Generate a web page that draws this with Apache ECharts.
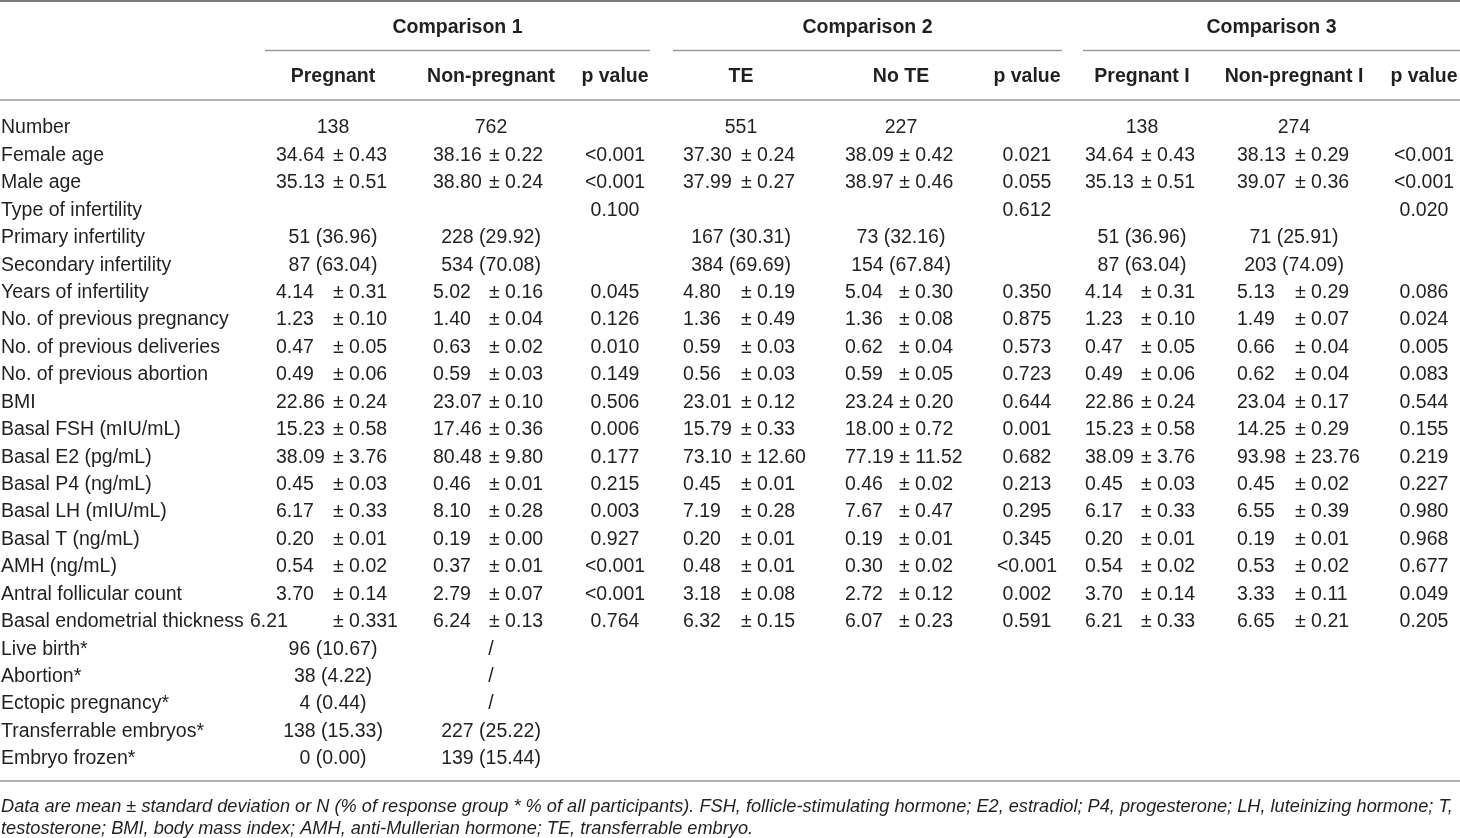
<!DOCTYPE html>
<html>
<head>
<meta charset="utf-8">
<script src="https://cdn.jsdelivr.net/npm/echarts@6/dist/echarts.min.js"></script>
<style>
  html, body { margin: 0; padding: 0; background: #fff; }
  #chart { width: 1460px; height: 838px; }
</style>
</head>
<body>
<div id="chart"></div>
<script>
// row labels (first column)
const rowLabels = [
  'Number', 'Female age', 'Male age', 'Type of infertility', 'Primary infertility',
  'Secondary infertility', 'Years of infertility', 'No. of previous pregnancy',
  'No. of previous deliveries', 'No. of previous abortion', 'BMI', 'Basal FSH (mIU/mL)',
  'Basal E2 (pg/mL)', 'Basal P4 (ng/mL)', 'Basal LH (mIU/mL)', 'Basal T (ng/mL)',
  'AMH (ng/mL)', 'Antral follicular count', 'Basal endometrial thickness', 'Live birth*',
  'Abortion*', 'Ectopic pregnancy*', 'Transferrable embryos*', 'Embryo frozen*'
];

const groupTitles = ['Comparison 1', 'Comparison 2', 'Comparison 3'];
const columnTitles = ['Pregnant', 'Non-pregnant', 'p value', 'TE', 'No TE', 'p value',
  'Pregnant I', 'Non-pregnant I', 'p value'];

// comparison 1
const pregnant = ['138', '34.64 ± 0.43', '35.13 ± 0.51', '', '51 (36.96)', '87 (63.04)',
  '4.14 ± 0.31', '1.23 ± 0.10', '0.47 ± 0.05', '0.49 ± 0.06', '22.86 ± 0.24', '15.23 ± 0.58',
  '38.09 ± 3.76', '0.45 ± 0.03', '6.17 ± 0.33', '0.20 ± 0.01', '0.54 ± 0.02', '3.70 ± 0.14',
  '6.21 ± 0.331', '96 (10.67)', '38 (4.22)', '4 (0.44)', '138 (15.33)', '0 (0.00)'];
const nonPregnant = ['762', '38.16 ± 0.22', '38.80 ± 0.24', '', '228 (29.92)', '534 (70.08)',
  '5.02 ± 0.16', '1.40 ± 0.04', '0.63 ± 0.02', '0.59 ± 0.03', '23.07 ± 0.10', '17.46 ± 0.36',
  '80.48 ± 9.80', '0.46 ± 0.01', '8.10 ± 0.28', '0.19 ± 0.00', '0.37 ± 0.01', '2.79 ± 0.07',
  '6.24 ± 0.13', '/', '/', '/', '227 (25.22)', '139 (15.44)'];
const pValue1 = ['', '<0.001', '<0.001', '0.100', '', '', '0.045', '0.126', '0.010', '0.149',
  '0.506', '0.006', '0.177', '0.215', '0.003', '0.927', '<0.001', '<0.001', '0.764'];

// comparison 2
const te = ['551', '37.30 ± 0.24', '37.99 ± 0.27', '', '167 (30.31)', '384 (69.69)',
  '4.80 ± 0.19', '1.36 ± 0.49', '0.59 ± 0.03', '0.56 ± 0.03', '23.01 ± 0.12', '15.79 ± 0.33',
  '73.10 ± 12.60', '0.45 ± 0.01', '7.19 ± 0.28', '0.20 ± 0.01', '0.48 ± 0.01', '3.18 ± 0.08',
  '6.32 ± 0.15'];
const noTe = ['227', '38.09 ± 0.42', '38.97 ± 0.46', '', '73 (32.16)', '154 (67.84)',
  '5.04 ± 0.30', '1.36 ± 0.08', '0.62 ± 0.04', '0.59 ± 0.05', '23.24 ± 0.20', '18.00 ± 0.72',
  '77.19 ± 11.52', '0.46 ± 0.02', '7.67 ± 0.47', '0.19 ± 0.01', '0.30 ± 0.02', '2.72 ± 0.12',
  '6.07 ± 0.23'];
const pValue2 = ['', '0.021', '0.055', '0.612', '', '', '0.350', '0.875', '0.573', '0.723',
  '0.644', '0.001', '0.682', '0.213', '0.295', '0.345', '<0.001', '0.002', '0.591'];

// comparison 3
const pregnantI = ['138', '34.64 ± 0.43', '35.13 ± 0.51', '', '51 (36.96)', '87 (63.04)',
  '4.14 ± 0.31', '1.23 ± 0.10', '0.47 ± 0.05', '0.49 ± 0.06', '22.86 ± 0.24', '15.23 ± 0.58',
  '38.09 ± 3.76', '0.45 ± 0.03', '6.17 ± 0.33', '0.20 ± 0.01', '0.54 ± 0.02', '3.70 ± 0.14',
  '6.21 ± 0.33'];
const nonPregnantI = ['274', '38.13 ± 0.29', '39.07 ± 0.36', '', '71 (25.91)', '203 (74.09)',
  '5.13 ± 0.29', '1.49 ± 0.07', '0.66 ± 0.04', '0.62 ± 0.04', '23.04 ± 0.17', '14.25 ± 0.29',
  '93.98 ± 23.76', '0.45 ± 0.02', '6.55 ± 0.39', '0.19 ± 0.01', '0.53 ± 0.02', '3.33 ± 0.11',
  '6.65 ± 0.21'];
const pValue3 = ['', '<0.001', '<0.001', '0.020', '', '', '0.086', '0.024', '0.005', '0.083',
  '0.544', '0.155', '0.219', '0.227', '0.980', '0.968', '0.677', '0.049', '0.205'];

const footnote = [
  'Data are mean ± standard deviation or N (% of response group * % of all participants). FSH, follicle-stimulating hormone; E2, estradiol; P4, progesterone; LH, luteinizing hormone; T,',
  'testosterone; BMI, body mass index; AMH, anti-Mullerian hormone; TE, transferrable embryo.'
];

const columns = [pregnant, nonPregnant, pValue1, te, noTe, pValue2, pregnantI, nonPregnantI, pValue3];

// layout (x positions on the 0..1460 value axis)
const colCenter = [333, 491, 615, 741, 901, 1027, 1142, 1294, 1424];
const colLeft   = [276, 433, null, 683, 845, null, 1085, 1237, null];
const colTab    = [333, 489, null, 741, 899, null, 1141, 1295, null];
const groupSpan = [[265, 650], [673, 1062], [1083, 1460]];
const meanNudge = { '0,18': -26 };

const FONT = '"Liberation Sans", Arial, Helvetica, sans-serif';
const FS = 19.5;
const INK = '#231f20';
const RULE = '#9a9a9a';

const measureCtx = document.createElement('canvas').getContext('2d');
measureCtx.font = FS + 'px ' + FONT;
const textW = s => measureCtx.measureText(s).width;

const cells = [];
columns.forEach((col, c) => {
  col.forEach((v, r) => { if (v !== '') cells.push([c, r]); });
});

const graphics = [];
graphics.push({ type: 'line', shape: { x1: 0, y1: 1, x2: 1460, y2: 1 }, style: { stroke: '#7a7a7a', lineWidth: 2 } });
graphics.push({ type: 'line', shape: { x1: 0, y1: 100, x2: 1460, y2: 100 }, style: { stroke: RULE, lineWidth: 1.5 } });
graphics.push({ type: 'line', shape: { x1: 0, y1: 781, x2: 1460, y2: 781 }, style: { stroke: RULE, lineWidth: 1.5 } });
groupSpan.forEach((g, i) => {
  graphics.push({ type: 'line', shape: { x1: g[0], y1: 50.5, x2: g[1], y2: 50.5 }, style: { stroke: RULE, lineWidth: 1.5 } });
  graphics.push({ type: 'text', x: (g[0] + g[1]) / 2, y: 27.5,
    style: { text: groupTitles[i], font: 'bold ' + FS + 'px ' + FONT, fill: INK, textAlign: 'center', textVerticalAlign: 'middle' } });
});
columnTitles.forEach((t, c) => {
  graphics.push({ type: 'text', x: colCenter[c], y: 76.5,
    style: { text: t, font: 'bold ' + FS + 'px ' + FONT, fill: INK, textAlign: 'center', textVerticalAlign: 'middle' } });
});
footnote.forEach((t, i) => {
  graphics.push({ type: 'text', x: 1, y: 807 + i * 22,
    style: { text: t, font: 'italic 18.2px ' + FONT, fill: INK, textAlign: 'left', textVerticalAlign: 'middle' } });
});

const chart = echarts.init(document.getElementById('chart'));
chart.setOption({
  animation: false,
  grid: { left: 0, right: 0, top: 114.3, bottom: 65.3, containLabel: false, outerBoundsMode: 'none' },
  xAxis: { type: 'value', min: 0, max: 1460, show: false },
  yAxis: {
    type: 'category', data: rowLabels, inverse: true,
    axisLine: { show: false }, axisTick: { show: false }, splitLine: { show: false },
    axisLabel: { inside: true, margin: 1, fontSize: FS, fontFamily: FONT, color: INK, align: 'left' }
  },
  graphic: graphics,
  series: [{
    type: 'custom',
    data: cells,
    silent: true,
    renderItem: (params, api) => {
      const c = api.value(0), r = api.value(1);
      const s = columns[c][r];
      const y = api.coord([0, r])[1];
      const base = { font: FS + 'px ' + FONT, fill: INK, textVerticalAlign: 'middle' };
      if (colLeft[c] !== null && s.indexOf(' ± ') > 0) {
        const parts = s.split(' ± ');
        const xl = api.coord([colLeft[c] + (meanNudge[c + ',' + r] || 0), r])[0];
        const xt = Math.max(api.coord([colTab[c], r])[0], xl + textW(parts[0] + ' '));
        return { type: 'group', children: [
          { type: 'text', style: Object.assign({ x: xl, y: y, text: parts[0], textAlign: 'left' }, base) },
          { type: 'text', style: Object.assign({ x: xt, y: y, text: '± ' + parts[1], textAlign: 'left' }, base) }
        ] };
      }
      return { type: 'text', style: Object.assign({ x: api.coord([colCenter[c], r])[0], y: y, text: s, textAlign: 'center' }, base) };
    }
  }]
});
</script>
</body>
</html>
